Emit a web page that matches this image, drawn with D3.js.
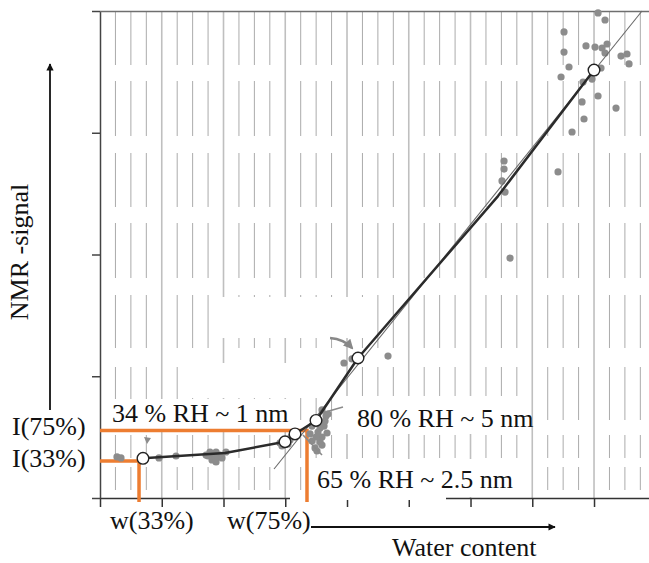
<!DOCTYPE html>
<html>
<head>
<meta charset="utf-8">
<script src="https://cdn.jsdelivr.net/npm/d3@7"></script>
<style>
  html, body { margin: 0; padding: 0; background: #fff; }
  svg { display: block; }
  text { font-family: "Liberation Serif", "Times New Roman", serif; fill: #111; }
</style>
</head>
<body>
<svg id="chart" width="649" height="563"></svg>
<script>
// Axis ticks (arbitrary units)
const xTicks = [0, 1, 2, 3, 4, 5, 6, 7, 8];
const yTicks = [0, 1, 2, 3, 4];

// Individual NMR measurements (water content, signal)
const scatterX = [0.275, 0.340, 0.955, 1.231,
  1.749, 1.830, 1.911, 1.814, 1.943, 1.870, 1.717, 1.781, 1.879, 1.976, 1.879, 2.040,
  2.915, 3.077, 2.947, 3.093, 3.045,
  3.433, 3.530, 3.628, 3.563, 3.482, 3.660, 3.401, 3.595,
  3.595, 3.692, 3.644, 3.563, 3.676, 3.498, 3.595, 3.514, 3.433,
  3.951, 4.081, 4.664, 6.640,
  6.543, 6.543, 6.510, 6.559,
  8.065, 8.178, 7.514, 7.514, 7.870, 8.016, 8.130, 8.211, 8.178, 7.595, 7.466, 8.113,
  7.968, 7.822, 8.437, 8.534, 8.567, 8.065, 7.806, 8.356, 7.838, 7.644, 7.417];
const scatterY = [0.337, 0.329, 0.329, 0.345,
  0.345, 0.361, 0.337, 0.312, 0.353, 0.330, 0.353, 0.378, 0.378, 0.329, 0.296, 0.378,
  0.452, 0.476, 0.427, 0.501, 0.444,
  0.591, 0.542, 0.591, 0.460, 0.411, 0.674, 0.526, 0.501,
  0.723, 0.690, 0.632, 0.575, 0.534, 0.501, 0.435, 0.386, 0.468,
  1.109, 1.142, 1.166, 1.971,
  2.768, 2.702, 2.604, 2.513,
  3.984, 3.926, 3.828, 3.663, 3.713, 3.704, 3.696, 3.729, 3.655, 3.540, 3.458, 3.532,
  3.441, 3.417, 3.630, 3.647, 3.565, 3.302, 3.253, 3.203, 3.113, 3.006, 2.678];

// Averages per humidity step (open circles)
const meanX = [0.696, 2.996, 3.158, 3.498, 4.178, 8.000];
const meanY = [0.326, 0.462, 0.526, 0.637, 1.150, 3.515];

// Trend curve through the averages
const trendX = [0.696, 2.024, 2.996, 3.158, 3.498, 4.178, 6.445, 8.000];
const trendY = [0.326, 0.370, 0.462, 0.526, 0.637, 1.150, 2.480, 3.515];

// Linear fit of the high-humidity branch
const fitX = [2.818, 8.777];
const fitY = [0.238, 4.000];

// Reference levels: water content w and signal I at 33 % and 75 % RH
const guideW = [0.632, 3.352];
const guideI = [0.304, 0.555];

// Error whiskers near the 75-80 % RH points
const whiskerX0 = [3.287, 3.595];
const whiskerY0 = [0.517, 0.698];
const whiskerX1 = [3.595, 3.935];
const whiskerY1 = [0.353, 0.747];

// Annotation labels
const labelText = ["34 % RH ~ 1 nm", "80 % RH ~ 5 nm", "65 % RH ~ 2.5 nm"];

const svg = d3.select("#chart");
const x = d3.scaleLinear().domain([0, 8.9]).range([100, 649.6]);
const y = d3.scaleLinear().domain([0, 4]).range([498, 11]);

// ---- vertical grid: solid at ticks, broken lines in between ----
const grid = svg.append("g");
const minor = d3.range(1, 36).map(k => k * 0.25).filter(v => Math.abs(v - Math.round(v)) > 1e-6);
grid.selectAll("line.minor").data(minor).join("line")
  .attr("x1", d => x(d)).attr("x2", d => x(d))
  .attr("y1", y(4)).attr("y2", y(0))
  .attr("stroke", "#ababab").attr("stroke-width", 1)
  .attr("stroke-dasharray", "54,16,55,17,54,16,55,17,53,19,53,15,23,9,23,100");
grid.selectAll("line.major").data(xTicks.slice(1)).join("line")
  .attr("x1", d => x(d)).attr("x2", d => x(d))
  .attr("y1", y(4)).attr("y2", y(0))
  .attr("stroke", "#bfbfbf").attr("stroke-width", 1.6);

// ---- axes ----
const ax = svg.append("g").attr("transform", `translate(0,${y(0)})`)
  .call(d3.axisBottom(x).tickValues(xTicks).tickSize(9).tickSizeOuter(0).tickFormat(""));
ax.selectAll("path,line").attr("stroke", "#333").attr("stroke-width", 1.5);
const ay = svg.append("g").attr("transform", `translate(${x(0)},0)`)
  .call(d3.axisLeft(y).tickValues(yTicks).tickSize(8).tickSizeOuter(0).tickFormat(""));
ay.selectAll("path,line").attr("stroke", "#444").attr("stroke-width", 1.5);
// frame top edge
svg.append("line")
  .attr("x1", x(0)).attr("x2", x(8.9)).attr("y1", y(4) + 0.5).attr("y2", y(4) + 0.5)
  .attr("stroke", "#6f6f6f").attr("stroke-width", 1.5);

// ---- white panels behind the labels ----
const panels = [
  [212, 297, 163, 41],
  [185, 363, 150, 35],
  [102, 399, 196, 31],
  [345, 396, 183, 38],
  [310, 459, 218, 38],
  [290, 497, 156, 3]
];
svg.append("g").selectAll("rect").data(panels).join("rect")
  .attr("x", d => d[0]).attr("y", d => d[1]).attr("width", d => d[2]).attr("height", d => d[3])
  .attr("fill", "#fff");

// ---- guide lines to the axes ----
const orange = "#ed7d31";
svg.append("g").selectAll("path").data(guideW).join("path")
  .attr("d", (d, i) => `M${x(0)},${y(guideI[i])}H${x(d)}V${y(0) + 4}`)
  .attr("fill", "none").attr("stroke", orange).attr("stroke-width", 3.5);

// ---- measurements ----
svg.append("g").selectAll("circle").data(scatterX).join("circle")
  .attr("cx", d => x(d)).attr("cy", (d, i) => y(scatterY[i])).attr("r", 3.6)
  .attr("fill", "#8c8c8c");

// small marker above the 33 % point
svg.append("path")
  .attr("d", `M${x(0.761) - 3},${y(0.468) - 4}L${x(0.761) + 4},${y(0.468) - 3}L${x(0.761)},${y(0.468) + 3}Z`)
  .attr("fill", "#8c8c8c");

// whiskers
svg.append("g").selectAll("line").data(whiskerX0).join("line")
  .attr("x1", d => x(d)).attr("y1", (d, i) => y(whiskerY0[i]))
  .attr("x2", (d, i) => x(whiskerX1[i])).attr("y2", (d, i) => y(whiskerY1[i]))
  .attr("stroke", "#8a8a8a").attr("stroke-width", 1.6);

// pointer arrow to the 80 % point
svg.append("defs").html(
  '<marker id="gh" viewBox="0 0 10 10" refX="8" refY="5" markerWidth="4" markerHeight="4" orient="auto"><path d="M0,0L10,5L0,10Z" fill="#888"/></marker>' +
  '<marker id="bh" viewBox="0 0 10 10" refX="9" refY="5" markerWidth="5" markerHeight="4" orient="auto"><path d="M0,0L10,5L0,10Z" fill="#111"/></marker>');
svg.append("path")
  .attr("d", `M${x(3.725)},${y(1.314)}Q${x(3.95)},${y(1.305)} ${x(4.081)},${y(1.232)}`)
  .attr("fill", "none").attr("stroke", "#888").attr("stroke-width", 2.5)
  .attr("marker-end", "url(#gh)");

// linear fit
svg.append("line")
  .attr("x1", x(fitX[0])).attr("y1", y(fitY[0]))
  .attr("x2", x(fitX[1])).attr("y2", y(fitY[1]))
  .attr("stroke", "#6a6a6a").attr("stroke-width", 1.1);

// trend through averages
const trend = d3.line().x(d => x(d)).y((d, i) => y(trendY[i]));
svg.append("path").attr("d", trend(trendX))
  .attr("fill", "none").attr("stroke", "#2b2b2b").attr("stroke-width", 2.5)
  .attr("stroke-linejoin", "round");

// averages
svg.append("g").selectAll("circle").data(meanX).join("circle")
  .attr("cx", d => x(d)).attr("cy", (d, i) => y(meanY[i])).attr("r", 5.8)
  .attr("fill", "#fff").attr("stroke", "#222").attr("stroke-width", 1.4);

// ---- axis titles and arrows ----
svg.append("line").attr("x1", 50).attr("y1", 410).attr("x2", 50).attr("y2", 64)
  .attr("stroke", "#111").attr("stroke-width", 1.8).attr("marker-end", "url(#bh)");
svg.append("line").attr("x1", 311).attr("y1", 527).attr("x2", 555).attr("y2", 527)
  .attr("stroke", "#111").attr("stroke-width", 1.8).attr("marker-end", "url(#bh)");

const fs = 26;
svg.append("text").attr("transform", "translate(28,252) rotate(-90)")
  .attr("text-anchor", "middle").attr("font-size", fs).text("NMR -signal");
svg.append("text").attr("x", 392).attr("y", 556).attr("font-size", fs).text("Water content");

svg.append("text").attr("x", 12).attr("y", y(guideI[1]) + 5).attr("font-size", fs).text("I(75%)");
svg.append("text").attr("x", 12).attr("y", y(guideI[0]) + 6).attr("font-size", fs).text("I(33%)");
svg.append("text").attr("x", 110).attr("y", 529).attr("font-size", fs).text("w(33%)");
svg.append("text").attr("x", 227).attr("y", 529).attr("font-size", fs).text("w(75%)");

const labelPos = [[112, 422], [357, 427], [317, 488]];
svg.append("g").selectAll("text").data(labelText).join("text")
  .attr("x", (d, i) => labelPos[i][0]).attr("y", (d, i) => labelPos[i][1])
  .attr("font-size", fs).text(d => d);
</script>
</body>
</html>
